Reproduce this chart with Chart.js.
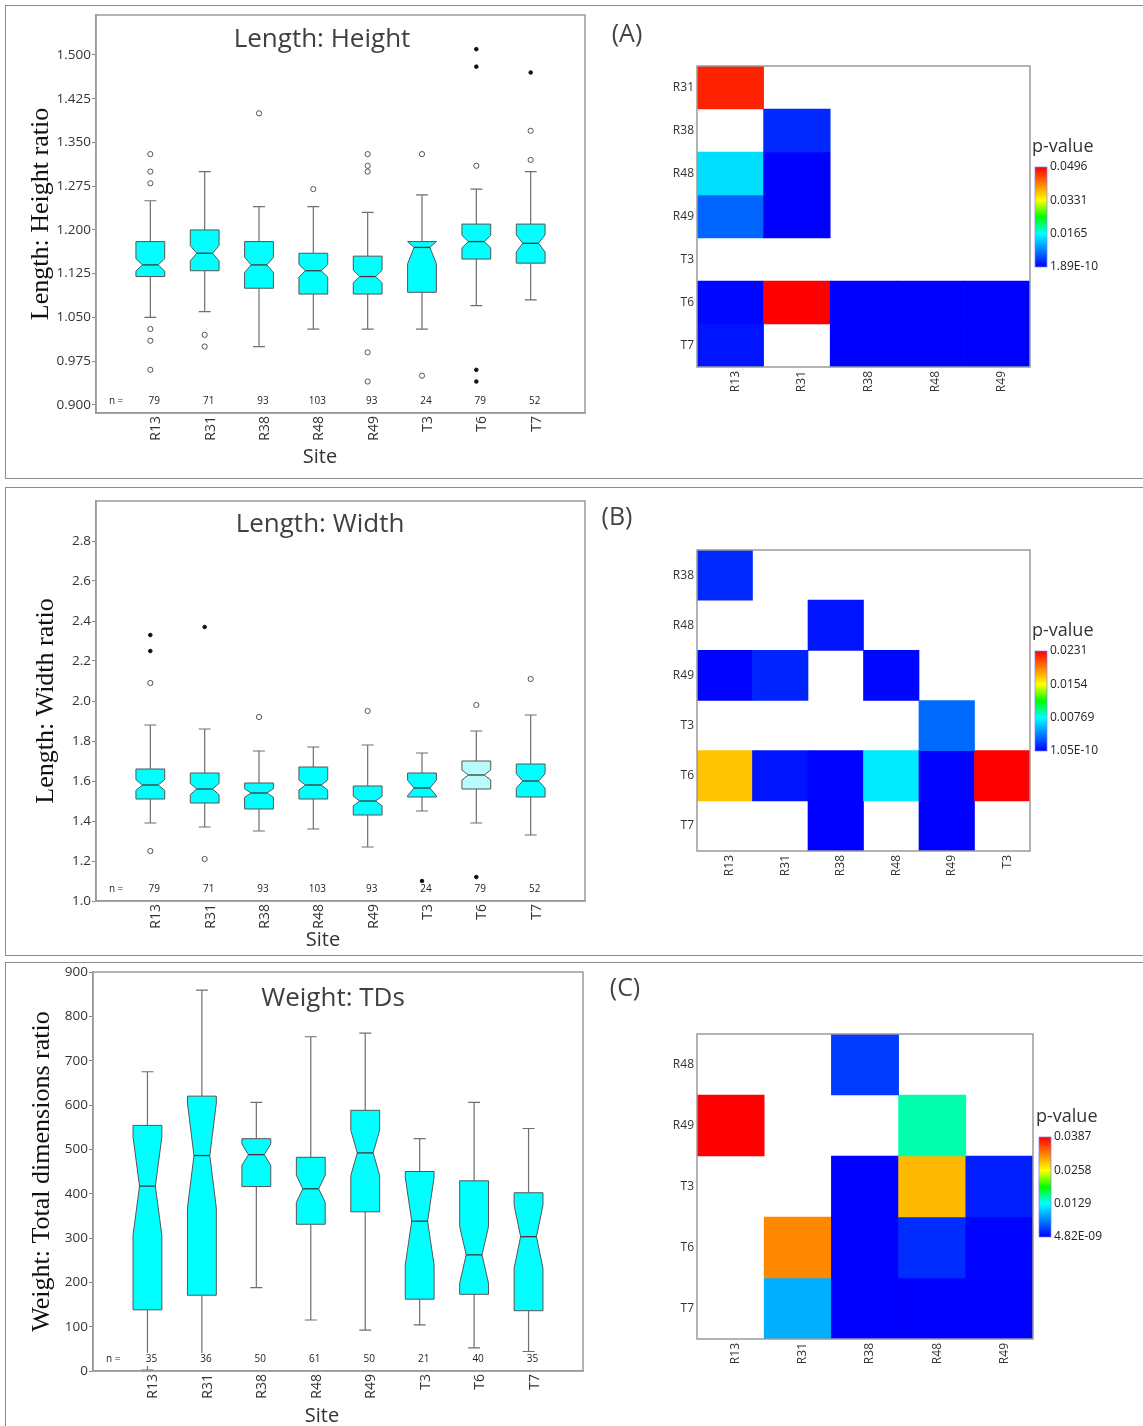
<!DOCTYPE html>
<html>
<head>
<meta charset="utf-8">
<script src="https://cdn.jsdelivr.net/npm/chart.js@4.4.0/dist/chart.umd.min.js"></script>
<style>
  body { margin: 0; background: #fff; width: 1143px; height: 1426px; position: relative; overflow: hidden; }
  .panel { position: absolute; left: 5px; width: 1150px; border: 1.5px solid #8c8c8c; border-right: none; box-sizing: border-box; }
  canvas { position: absolute; }
</style>
</head>
<body>
<div class="panel" style="top:5px;height:474px"></div>
<div class="panel" style="top:487px;height:469px"></div>
<div class="panel" style="top:962px;height:480px"></div>

<canvas id="boxA" width="595" height="473" style="left:5px;top:5px"></canvas>
<canvas id="heatA" width="543" height="473" style="left:600px;top:5px"></canvas>
<canvas id="boxB" width="595" height="468" style="left:5px;top:488px"></canvas>
<canvas id="heatB" width="543" height="468" style="left:600px;top:488px"></canvas>
<canvas id="boxC" width="595" height="464" style="left:5px;top:962px"></canvas>
<canvas id="heatC" width="543" height="464" style="left:600px;top:962px"></canvas>

<script>
var sites = ['R13', 'R31', 'R38', 'R48', 'R49', 'T3', 'T6', 'T7'];

// (A) Length: Height
var nA = [79, 71, 93, 103, 93, 24, 79, 52];
var lowA = [1.05, 1.06, 1.00, 1.03, 1.03, 1.03, 1.07, 1.08];
var q1A = [1.12, 1.13, 1.10, 1.09, 1.09, 1.093, 1.15, 1.143];
var medA = [1.14, 1.16, 1.14, 1.13, 1.12, 1.17, 1.18, 1.177];
var q3A = [1.18, 1.20, 1.18, 1.16, 1.155, 1.18, 1.21, 1.21];
var highA = [1.25, 1.30, 1.24, 1.24, 1.23, 1.26, 1.27, 1.30];
var outliersA = [['R13', 1.33], ['R13', 1.30], ['R13', 1.28], ['R13', 1.03], ['R13', 1.01], ['R13', 0.96],
                 ['R31', 1.02], ['R31', 1.00], ['R38', 1.40], ['R48', 1.27],
                 ['R49', 1.33], ['R49', 1.31], ['R49', 1.30], ['R49', 0.99], ['R49', 0.94],
                 ['T3', 1.33], ['T3', 0.95], ['T6', 1.31], ['T7', 1.37], ['T7', 1.32]];
var extremesA = [['T6', 1.51], ['T6', 1.48], ['T6', 0.96], ['T6', 0.94], ['T7', 1.47]];
var yTicksA = [0.900, 0.975, 1.050, 1.125, 1.200, 1.275, 1.350, 1.425, 1.500];

// (B) Length: Width
var nB = [79, 71, 93, 103, 93, 24, 79, 52];
var lowB = [1.39, 1.37, 1.35, 1.36, 1.27, 1.45, 1.39, 1.33];
var q1B = [1.51, 1.49, 1.46, 1.51, 1.43, 1.52, 1.56, 1.52];
var medB = [1.58, 1.56, 1.54, 1.58, 1.50, 1.565, 1.63, 1.60];
var q3B = [1.66, 1.64, 1.59, 1.67, 1.575, 1.64, 1.70, 1.685];
var highB = [1.88, 1.86, 1.75, 1.77, 1.78, 1.74, 1.85, 1.93];
var outliersB = [['R13', 2.09], ['R13', 1.25], ['R31', 1.21], ['R38', 1.92], ['R49', 1.95], ['T6', 1.98], ['T7', 2.11]];
var extremesB = [['R13', 2.33], ['R13', 2.25], ['R31', 2.37], ['T3', 1.10], ['T6', 1.12]];
var yTicksB = [1.0, 1.2, 1.4, 1.6, 1.8, 2.0, 2.2, 2.4, 2.6, 2.8];

// (C) Weight: TDs
var nC = [35, 36, 50, 61, 50, 21, 40, 35];
var lowC = [2, 18, 188, 115, 92, 104, 52, 44];
var q1C = [138, 171, 416, 331, 359, 162, 173, 136];
var medC = [417, 486, 488, 411, 492, 338, 262, 303];
var q3C = [554, 620, 524, 482, 588, 450, 429, 402];
var highC = [675, 859, 606, 754, 762, 524, 606, 547];
var yTicksC = [0, 100, 200, 300, 400, 500, 600, 700, 800, 900];

// pairwise p-values (null = not significant, left white)
var rowsA = ['R31', 'R38', 'R48', 'R49', 'T3', 'T6', 'T7'];
var colsA = ['R13', 'R31', 'R38', 'R48', 'R49'];
var pA = [
    [0.0474, null, null, null, null],
    [null, 0.0026, null, null, null],
    [0.0144, 0.000001, null, null, null],
    [0.0066, 0.000002, null, null, null],
    [null, null, null, null, null],
    [0.0004, 0.0496, 1e-9, 1e-8, 1e-9],
    [0.0013, null, 1e-8, 1e-9, 1e-9]
];
var scaleA = ['0.0496', '0.0331', '0.0165', '1.89E-10'];

var rowsB = ['R38', 'R48', 'R49', 'T3', 'T6', 'T7'];
var colsB = ['R13', 'R31', 'R38', 'R48', 'R49', 'T3'];
var pB = [
    [0.0012, null, null, null, null, null],
    [null, null, 0.0006, null, null, null],
    [0.0001, 0.0011, null, 0.0002, null, null],
    [null, null, null, null, 0.0032, null],
    [0.0172, 0.0006, 0.0001, 0.0071, 0.0001, 0.0231],
    [null, null, 0.000001, null, 0.000001, null]
];
var scaleB = ['0.0231', '0.0154', '0.00769', '1.05E-10'];

var rowsC = ['R48', 'R49', 'T3', 'T6', 'T7'];
var colsC = ['R13', 'R31', 'R38', 'R48', 'R49'];
var pC = [
    [null, null, 0.0030, null, null],
    [0.0387, null, null, 0.0150, null],
    [null, null, 0.000001, 0.0294, 0.0015],
    [null, 0.0318, 0.000001, 0.0023, 0.0001],
    [null, 0.0089, 1e-7, 1e-7, 1e-7]
];
var scaleC = ['0.0387', '0.0258', '0.0129', '4.82E-09'];


Chart.defaults.font.family = "'Open Sans', sans-serif";
Chart.defaults.color = '#333';

// rainbow colour map used by the p-value legends
var jetStops = [[0, [0, 0, 255]], [1 / 3, [0, 255, 255]], [0.5, [0, 255, 0]], [2 / 3, [255, 255, 0]], [1, [255, 0, 0]]];

function jet(f) {
    f = Math.max(0, Math.min(1, f));
    for (var i = 1; i < jetStops.length; i++) {
        if (f <= jetStops[i][0]) {
            var a = jetStops[i - 1], b = jetStops[i];
            var t = (f - a[0]) / (b[0] - a[0]);
            var c = a[1].map(function (v, k) { return Math.round(v + (b[1][k] - v) * t); });
            return 'rgb(' + c.join(',') + ')';
        }
    }
    return 'rgb(255,0,0)';
}

function toPoints(list) {
    return list.map(function (o) { return { x: sites.indexOf(o[0]) + 1, y: o[1] }; });
}

// draws the notched boxes, whiskers and the text inside the frame
function boxPainter(d, st) {
    return {
        id: 'boxPainter',
        beforeDatasetsDraw: function (chart) {
            var ctx = chart.ctx, x = chart.scales.x, y = chart.scales.y;
            var unit = x.getPixelForValue(1) - x.getPixelForValue(0);
            var hw = unit * 0.265, nw = hw * 0.55, cw = unit * 0.11;
            ctx.save();
            sites.forEach(function (s, i) {
                var cx = x.getPixelForValue(i + 1);
                var py = function (v) { return y.getPixelForValue(v); };
                ctx.strokeStyle = '#6f6f6f';
                ctx.lineWidth = 1.2;
                ctx.beginPath();
                ctx.moveTo(cx, py(d.q3[i])); ctx.lineTo(cx, py(d.high[i]));
                ctx.moveTo(cx, py(d.q1[i])); ctx.lineTo(cx, py(d.low[i]));
                ctx.moveTo(cx - cw, py(d.high[i])); ctx.lineTo(cx + cw, py(d.high[i]));
                ctx.moveTo(cx - cw, py(d.low[i])); ctx.lineTo(cx + cw, py(d.low[i]));
                ctx.stroke();

                // notch = median +/- 1.58 IQR / sqrt(n), kept inside the box
                var half = 1.58 * (d.q3[i] - d.q1[i]) / Math.sqrt(d.n[i]);
                var nHi = Math.min(d.q3[i], d.med[i] + half);
                var nLo = Math.max(d.q1[i], d.med[i] - half);
                ctx.beginPath();
                ctx.moveTo(cx - hw, py(d.q1[i]));
                ctx.lineTo(cx - hw, py(nLo));
                ctx.lineTo(cx - nw, py(d.med[i]));
                ctx.lineTo(cx - hw, py(nHi));
                ctx.lineTo(cx - hw, py(d.q3[i]));
                ctx.lineTo(cx + hw, py(d.q3[i]));
                ctx.lineTo(cx + hw, py(nHi));
                ctx.lineTo(cx + nw, py(d.med[i]));
                ctx.lineTo(cx + hw, py(nLo));
                ctx.lineTo(cx + hw, py(d.q1[i]));
                ctx.closePath();
                ctx.fillStyle = st.light.indexOf(s) >= 0 ? '#b8fbfb' : '#00ffff';
                ctx.fill();
                ctx.strokeStyle = '#555';
                ctx.lineWidth = 1;
                ctx.stroke();

                ctx.beginPath();
                ctx.moveTo(cx - nw, py(d.med[i]));
                ctx.lineTo(cx + nw, py(d.med[i]));
                ctx.strokeStyle = '#3a3a3a';
                ctx.lineWidth = 1.3;
                ctx.stroke();
            });
            ctx.restore();
        },
        afterDraw: function (chart) {
            var ctx = chart.ctx, a = chart.chartArea, x = chart.scales.x;
            ctx.save();
            // sample sizes along the bottom
            ctx.font = "10px 'Open Sans'";
            ctx.textAlign = 'center';
            ctx.textBaseline = 'middle';
            var ny = a.bottom - 12;
            var labels = [['n =', 0.37]].concat(d.n.map(function (v, i) { return [String(v), i + 1]; }));
            labels.forEach(function (l) {
                var px = x.getPixelForValue(l[1]) + (l[1] >= 1 ? 4 : 0);
                var w = ctx.measureText(l[0]).width;
                ctx.fillStyle = '#fff';
                ctx.fillRect(px - w / 2 - 5, ny - 6, w + 8, 13);
                ctx.fillStyle = '#222';
                ctx.fillText(l[0], px, ny);
            });
            // frame
            ctx.strokeStyle = '#9a9a9a';
            ctx.lineWidth = 1.5;
            ctx.strokeRect(a.left, a.top, a.right - a.left, a.bottom - a.top);
            // title and axis name
            ctx.fillStyle = '#404040';
            ctx.font = "26px 'Open Sans'";
            ctx.fillText(st.title, a.left + st.titleDx, a.top + st.titleDy);
            ctx.fillStyle = '#333';
            ctx.font = "20px 'Open Sans'";
            ctx.fillText('Site', a.left + st.siteDx, a.bottom + st.siteDy);
            ctx.restore();
        }
    };
}

function boxChart(id, d, st) {
    return new Chart(document.getElementById(id), {
        type: 'scatter',
        data: {
            datasets: [{
                data: toPoints(d.outliers),
                pointRadius: 2.6,
                pointBackgroundColor: '#fff',
                pointBorderColor: '#555',
                pointBorderWidth: 1
            }, {
                data: toPoints(d.extremes),
                pointRadius: 1.8,
                pointBackgroundColor: '#111',
                pointBorderColor: '#111',
                pointBorderWidth: 1
            }]
        },
        options: {
            responsive: false,
            animation: false,
            events: [],
            layout: { autoPadding: false, padding: { top: st.top, right: st.right, left: 0, bottom: 0 } },
            plugins: { legend: { display: false }, tooltip: { enabled: false } },
            scales: {
                x: {
                    type: 'linear', min: 0, max: 9,
                    afterBuildTicks: function (s) { s.ticks = sites.map(function (_, i) { return { value: i + 1 }; }); },
                    afterFit: function (s) { s.height = st.xH; },
                    ticks: {
                        autoSkip: false, minRotation: 90, maxRotation: 90, padding: 3, labelOffset: 6,
                        font: { size: 14 }, color: '#333',
                        callback: function (v) { return sites[v - 1]; }
                    },
                    grid: { display: false, drawTicks: false },
                    border: { display: true, color: '#9a9a9a', width: 1.5 }
                },
                y: {
                    type: 'linear', min: st.min, max: st.max,
                    afterBuildTicks: function (s) { s.ticks = d.yTicks.map(function (v) { return { value: v }; }); },
                    afterFit: function (s) { s.width = st.yW; },
                    ticks: {
                        font: { size: 13.5 }, color: '#333', padding: 1,
                        callback: function (v) { return v.toFixed(st.dec); }
                    },
                    grid: { drawOnChartArea: false, drawTicks: true, tickLength: 4, color: '#888' },
                    border: { display: true, color: '#9a9a9a', width: 1.5 },
                    title: {
                        display: true, text: st.yTitle, color: '#111',
                        font: { family: "'Liberation Serif', 'Times New Roman', serif", size: 26 },
                        padding: { top: st.yTitlePad, bottom: 0 }
                    }
                }
            }
        },
        plugins: [boxPainter(d, st)]
    });
}

// frame, panel letter and the p-value colour bar
function heatPainter(h, st) {
    return {
        id: 'heatPainter',
        afterDraw: function (chart) {
            var ctx = chart.ctx, a = chart.chartArea;
            ctx.save();
            ctx.strokeStyle = '#9a9a9a';
            ctx.lineWidth = 1.5;
            ctx.strokeRect(a.left, a.top, a.right - a.left, a.bottom - a.top);

            ctx.fillStyle = '#444';
            ctx.font = "25px 'Open Sans'";
            ctx.textAlign = 'center';
            ctx.textBaseline = 'middle';
            ctx.fillText(st.letter, st.letterX, st.letterY);

            var bx = a.right + st.barDx, by = a.top + st.barDy, bw = 12, bh = 100;
            var g = ctx.createLinearGradient(0, by, 0, by + bh);
            jetStops.forEach(function (s) { g.addColorStop(1 - s[0], jet(s[0])); });
            ctx.fillStyle = g;
            ctx.fillRect(bx, by, bw, bh);
            ctx.strokeStyle = 'rgba(130,130,255,0.7)';
            ctx.lineWidth = 1;
            ctx.strokeRect(bx, by, bw, bh);

            ctx.fillStyle = '#333';
            ctx.font = "18px 'Open Sans'";
            ctx.textAlign = 'left';
            ctx.fillText('p-value', bx - 3, by - 20);
            ctx.font = "12px 'Open Sans'";
            ctx.fillStyle = '#222';
            h.scale.forEach(function (t, i) {
                ctx.fillText(t, bx + bw + 3, by + i * bh / 3);
            });
            ctx.restore();
        }
    };
}

function heatChart(id, h, st) {
    var pMax = parseFloat(h.scale[0]);
    var datasets = h.rows.map(function (r, ri) {
        return {
            label: r,
            data: h.p[ri].map(function (v) { return v == null ? null : [ri - 0.5, ri + 0.5]; }),
            backgroundColor: h.p[ri].map(function (v) { return v == null ? 'rgba(0,0,0,0)' : jet(v / pMax); }),
            borderWidth: 0,
            barPercentage: 1,
            categoryPercentage: 1,
            grouped: false
        };
    });
    return new Chart(document.getElementById(id), {
        type: 'bar',
        data: { labels: h.cols, datasets: datasets },
        options: {
            responsive: false,
            animation: false,
            events: [],
            layout: { autoPadding: false, padding: { top: st.top, right: st.right, left: 0, bottom: 0 } },
            plugins: { legend: { display: false }, tooltip: { enabled: false } },
            scales: {
                x: {
                    afterFit: function (s) { s.height = st.xH; },
                    ticks: { autoSkip: false, minRotation: 90, maxRotation: 90, padding: 4, labelOffset: 5, font: { size: 12 }, color: '#333' },
                    grid: { display: false, drawTicks: false },
                    border: { display: false }
                },
                y: {
                    type: 'linear', reverse: true, min: -0.5, max: h.rows.length - 0.5,
                    afterBuildTicks: function (s) { s.ticks = h.rows.map(function (_, i) { return { value: i }; }); },
                    afterFit: function (s) { s.width = st.yW; },
                    ticks: { autoSkip: false, padding: 3, font: { size: 12 }, color: '#333',
                             callback: function (v) { return h.rows[v]; } },
                    grid: { display: false, drawTicks: false },
                    border: { display: false }
                }
            }
        },
        plugins: [heatPainter(h, st)]
    });
}

window.onload = function () {
    boxChart('boxA',
        { n: nA, low: lowA, q1: q1A, med: medA, q3: q3A, high: highA, outliers: outliersA, extremes: extremesA, yTicks: yTicksA },
        { title: 'Length: Height', yTitle: 'Length: Height ratio', min: 0.886, max: 1.5686, dec: 3, light: [],
          top: 10, right: 15, yW: 91, xH: 65, yTitlePad: 21, titleDx: 226, titleDy: 25, siteDx: 224, siteDy: 44 });
    boxChart('boxB',
        { n: nB, low: lowB, q1: q1B, med: medB, q3: q3B, high: highB, outliers: outliersB, extremes: extremesB, yTicks: yTicksB },
        { title: 'Length: Width', yTitle: 'Length: Width ratio', min: 1.0, max: 3.0, dec: 1, light: ['T6'],
          top: 13, right: 15, yW: 91, xH: 55, yTitlePad: 26, titleDx: 224, titleDy: 24, siteDx: 227, siteDy: 39 });
    boxChart('boxC',
        { n: nC, low: lowC, q1: q1C, med: medC, q3: q3C, high: highC, outliers: [], extremes: [], yTicks: yTicksC },
        { title: 'Weight: TDs', yTitle: 'Weight: Total dimensions ratio', min: 0, max: 900, dec: 0, light: [],
          top: 10, right: 17, yW: 88, xH: 55, yTitlePad: 22, titleDx: 240, titleDy: 27, siteDx: 229, siteDy: 45 });

    heatChart('heatA', { rows: rowsA, cols: colsA, p: pA, scale: scaleA },
        { top: 61, right: 113, yW: 97, xH: 111, letter: '(A)', letterX: 27, letterY: 30, barDx: 5, barDy: 101 });
    heatChart('heatB', { rows: rowsB, cols: colsB, p: pB, scale: scaleB },
        { top: 62, right: 113, yW: 97, xH: 105, letter: '(B)', letterX: 17, letterY: 30, barDx: 5, barDy: 101 });
    heatChart('heatC', { rows: rowsC, cols: colsC, p: pC, scale: scaleC },
        { top: 72, right: 110, yW: 97, xH: 87, letter: '(C)', letterX: 25, letterY: 27, barDx: 6, barDy: 103 });
};
</script>
</body>
</html>
